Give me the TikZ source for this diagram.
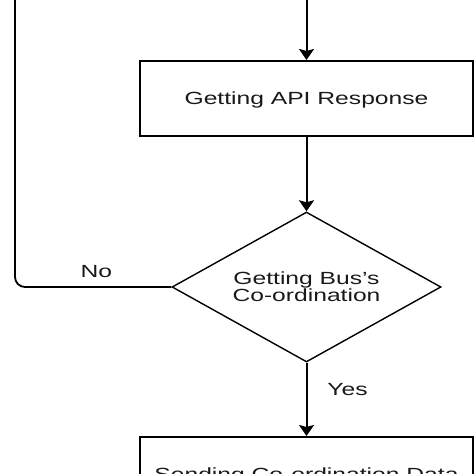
\documentclass[tikz,border=0pt]{standalone}
\usepackage{fontspec}
\setmainfont{Liberation Sans}[FakeStretch=1.4]
\usetikzlibrary{shapes.geometric,arrows.meta,positioning}
\begin{document}
\begin{tikzpicture}[x=0.5pt,y=-0.5pt,
    stepbox/.style={draw,line width=1pt,minimum width=166.5pt,minimum height=37.5pt,inner sep=0pt,text depth=0pt},
    decision/.style={diamond,draw,line width=0.7pt,aspect=1.79,minimum width=134.5pt,minimum height=75pt,inner sep=0pt,align=center},
    flow/.style={-{Stealth[width=7.5pt,length=5.5pt,inset=1pt]},line width=1pt},
    lbl/.style={font=\fontsize{8.8}{8.6}\selectfont,text=black!90}]
  \useasboundingbox (0,0) rectangle (474,474);
  \clip (0,0) rectangle (474,474);

  \node(api) at (306.5,98.5) [stepbox,lbl] {Getting API Response};
  \node(bus) at (306.5,287) [decision,lbl] {Getting Bus\symbol{39}s\\Co-ordination};
  \node(send) at (306.5,474.5) [stepbox,lbl] {Sending Co-ordination Data};

  \coordinate(top) at (306.5,-2);
  \coordinate(back) at (15,-2);

  \draw[flow] (top) -- (api);
  \draw[flow] (api) -- (bus);
  \draw[flow] (bus) -- node[pos=0.36,right=6.6pt,lbl]{Yes} (send);
  \draw[line width=0.9pt,rounded corners=5pt] (bus.west) -| node[pos=0.24,above=1pt,lbl]{No} (back);
\end{tikzpicture}
\end{document}
